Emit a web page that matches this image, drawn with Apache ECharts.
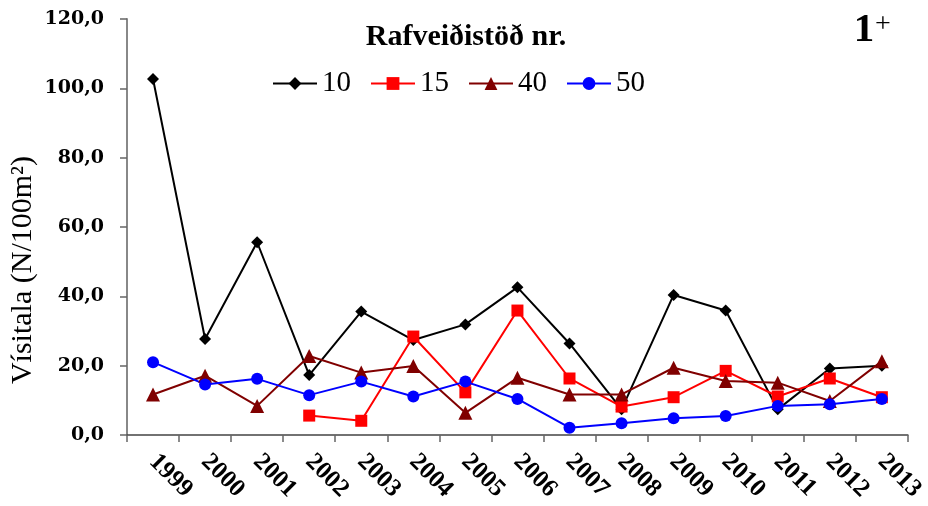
<!DOCTYPE html>
<html>
<head>
<meta charset="utf-8">
<script src="https://cdn.jsdelivr.net/npm/echarts@6/dist/echarts.min.js"></script>
<style>html,body{margin:0;padding:0;background:#fff}#c{width:928px;height:506px}</style>
</head>
<body>
<div id="c"></div>
<script>
const years = ['1999','2000','2001','2002','2003','2004','2005','2006','2007','2008','2009','2010','2011','2012','2013'];
const st10 = [102.7, 27.7, 55.6, 17.3, 35.6, 27.4, 31.9, 42.6, 26.4, 7.4, 40.4, 35.9, 7.4, 19.2, 20.0];
const st15 = [null, null, null, 5.6, 4.1, 28.4, 12.3, 35.9, 16.3, 8.2, 10.9, 18.5, 11.1, 16.3, 10.9];
const st40 = [11.7, 17.1, 8.4, 22.8, 18.0, 19.9, 6.4, 16.5, 11.7, 11.7, 19.4, 15.6, 15.1, 9.8, 21.3];
const st50 = [21.0, 14.6, 16.2, 11.5, 15.4, 11.1, 15.4, 10.4, 2.1, 3.4, 4.8, 5.5, 8.4, 8.9, 10.4];
const seriesNames = ['10', '15', '40', '50'];
const yTicks = { min: 0, max: 120, interval: 20 };

const chart = echarts.init(document.getElementById('c'));
const serif = '"Liberation Serif", "Times New Roman", serif';
const wideSerif = '"DejaVu Serif", serif';

function mk(name, data, color, symbol, size) {
  return {
    name: name, type: 'line', data: data,
    symbol: symbol, symbolSize: size,
    lineStyle: { color: color, width: 2 },
    itemStyle: { color: color },
    emphasis: { disabled: true },
    animation: false
  };
}

chart.setOption({
  animation: false,
  backgroundColor: '#fff',
  title: {
    text: 'Rafveiðistöð nr.',
    left: 461, top: 17, textAlign: 'center',
    textStyle: { fontFamily: serif, fontWeight: 'bold', fontSize: 30, color: '#000' }
  },
  legend: {
    left: 272, top: 69, padding: 0,
    itemWidth: 44, itemHeight: 16, itemGap: 19,
    lineStyle: { width: 2 },
    textStyle: { fontFamily: serif, fontSize: 29, color: '#000' },
    data: seriesNames
  },
  grid: { left: 127, right: 15, top: 19, bottom: 71, containLabel: false },
  xAxis: {
    type: 'category', data: years, boundaryGap: true,
    axisLine: { lineStyle: { color: '#444', width: 1.5 } },
    axisTick: { show: true, length: 7, lineStyle: { color: '#666', width: 1.5 } },
    axisLabel: {
      rotate: -45, margin: 23, interval: 0,
      fontFamily: serif, fontWeight: 'bold', fontSize: 25, color: '#000'
    },
    splitLine: { show: false }
  },
  yAxis: {
    type: 'value', min: yTicks.min, max: yTicks.max, interval: yTicks.interval,
    axisLine: { show: true, lineStyle: { color: '#888', width: 2 } },
    axisTick: { show: true, length: 7, lineStyle: { color: '#666', width: 1.5 } },
    axisLabel: {
      margin: 23,
      fontFamily: wideSerif, fontWeight: 'bold', fontSize: 19, color: '#000',
      formatter: v => v.toFixed(1).replace('.', ',')
    },
    splitLine: { show: false }
  },
  graphic: [
    {
      type: 'text', x: 23, y: 270, rotation: Math.PI / 2,
      style: { text: 'Vísitala (N/100m²)', font: '30px ' + serif, fill: '#000', textAlign: 'center', textVerticalAlign: 'middle' }
    },
    {
      type: 'text', x: 864, y: 30,
      style: { text: '1', font: 'bold 41px ' + serif, fill: '#000', textAlign: 'center', textVerticalAlign: 'middle' }
    },
    {
      type: 'text', x: 883, y: 25,
      style: { text: '+', font: '28px ' + serif, fill: '#000', textAlign: 'center', textVerticalAlign: 'middle' }
    }
  ],
  series: [
    mk('10', st10, '#000000', 'diamond', 12),
    mk('15', st15, '#FF0000', 'rect', 12),
    mk('40', st40, '#800000', 'triangle', 14),
    mk('50', st50, '#0000FF', 'circle', 12)
  ]
});
</script>
</body>
</html>
